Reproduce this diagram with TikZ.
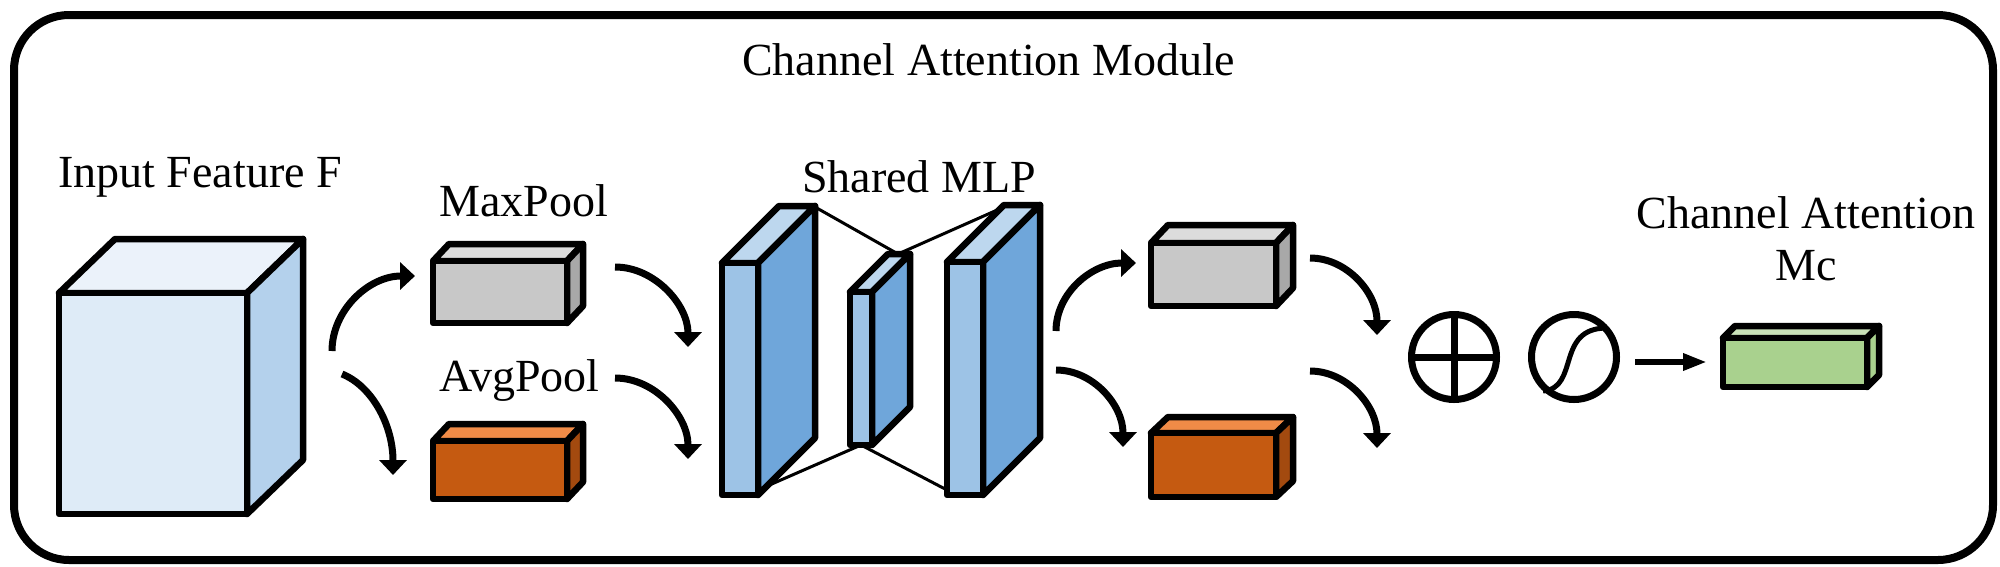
\documentclass[tikz,border=0pt]{standalone}
\usepackage{fontspec}
\setmainfont{Liberation Serif}
\usetikzlibrary{arrows.meta}
\definecolor{cubeF}{HTML}{DEEBF7}
\definecolor{cubeT}{HTML}{EBF2FA}
\definecolor{cubeS}{HTML}{B4D1EC}
\definecolor{grayF}{HTML}{C8C8C8}
\definecolor{grayT}{HTML}{DCDCDC}
\definecolor{grayS}{HTML}{A8A8A8}
\definecolor{oraF}{HTML}{C55A11}
\definecolor{oraT}{HTML}{F08B47}
\definecolor{oraS}{HTML}{A34A0F}
\definecolor{slabF}{HTML}{9DC3E6}
\definecolor{slabT}{HTML}{BDD7EE}
\definecolor{slabS}{HTML}{6FA6DA}
\definecolor{grnF}{HTML}{A9D18E}
\definecolor{grnT}{HTML}{C9E2B8}
\definecolor{grnS}{HTML}{A9D18E}
% #1 name, #2 x0, #3 y0, #4 x1, #5 y1 (front face), #6 dx, #7 dy (depth), #8 colour prefix
\newcommand\cubo[8]{%
  \filldraw[face, fill=#8T] (#2,#3) -- ++(#6,-#7) -- ({#4+#6},{#3-#7}) -- (#4,#3) -- cycle;
  \filldraw[face, fill=#8S] (#4,#3) -- ({#4+#6},{#3-#7}) -- ({#4+#6},{#5-#7}) -- (#4,#5) -- cycle;
  \node[face, fill=#8F, anchor=north west, inner sep=0pt, outer sep=0pt,
        minimum width={(#4-#2)*1pt}, minimum height={(#5-#3)*1pt}] (#1) at (#2,#3) {};
}
\begin{document}
\begin{tikzpicture}[x=1pt,y=-1pt,
  face/.style={draw=black, line width=6.5pt, line join=round},
  arr/.style={line width=7pt, -{Triangle[length=15pt,width=27pt]}},
  arrs/.style={line width=6.5pt, -{Triangle[length=24pt,width=16pt]}},
  link/.style={line width=3pt},
  lab/.style={inner sep=0pt, font=\fontsize{46}{50}\selectfont}]
\useasboundingbox (0,0) rectangle (2000,566);
\node[draw, line width=8pt, rounded corners=55pt, minimum width=1979pt, minimum height=545pt,
      inner sep=0pt, anchor=north west] (frame) at (10,11) {};
% labels
\node[lab, anchor=base west] (title) at (742,75) {Channel Attention Module};
\node[lab, anchor=base west] (inlab) at (58,187) {Input Feature F};
\node[lab, anchor=base west] (maxlab) at (439,216) {MaxPool};
\node[lab, anchor=base west] (avglab) at (439,391) {AvgPool};
\node[lab, anchor=base west] (mlplab) at (802,192) {Shared MLP};
\node[lab, anchor=base] (calab) at (1806,228) {Channel Attention};
\node[lab, anchor=base] (mclab) at (1806,280) {Mc};
% blocks
\cubo{cube}{59}{293}{247}{514}{56}{54}{cube}
\cubo{maxp}{433}{261}{567}{323}{16}{17}{gray}
\cubo{avgp}{433}{441}{567}{499}{16}{17}{ora}
% MLP
\coordinate (l1) at (815,207);
\coordinate (l2) at (898,254);
\coordinate (l3) at (1004,207);
\coordinate (l4) at (758,490);
\coordinate (l5) at (861,445);
\coordinate (l6) at (947,490);
\draw[link] (l1) -- (l2) -- (l3);
\draw[link] (l4) -- (l5) -- (l6);
\cubo{mlpa}{722}{263}{758}{495}{57}{57}{slab}
\cubo{mlpb}{850}{292}{872}{445}{38}{38}{slab}
\cubo{mlpc}{947}{262}{983}{495}{57}{57}{slab}
\cubo{gray2}{1151}{243}{1276}{306}{17}{18}{gray}
\cubo{ora2}{1151}{433}{1276}{497}{17}{16}{ora}
\cubo{mc}{1723}{338}{1867}{387}{12}{12}{grn}
% operators
\node[circle, draw, line width=7pt, minimum size=85pt, inner sep=0pt] (plus) at (1454,357) {};
\draw[line width=7pt] (plus.north) -- (plus.south) (plus.west) -- (plus.east);
\node[circle, draw, line width=7pt, minimum size=85pt, inner sep=0pt] (sig) at (1574,357) {};
\coordinate (s1) at (1543,391);
\coordinate (s2) at (1607,328);
\draw[line width=5pt] (s1) .. controls (1580,388) and (1555,328) .. (s2);
% arrows
\coordinate (a1s) at (332,351); \coordinate (a1e) at (415,276);
\coordinate (a2s) at (342,374); \coordinate (a2e) at (393,475);
\coordinate (a3s) at (615,267); \coordinate (a3e) at (688,347);
\coordinate (a4s) at (615,378); \coordinate (a4e) at (688,459);
\coordinate (a5s) at (1056,331); \coordinate (a5e) at (1136,263);
\coordinate (a6s) at (1056,370); \coordinate (a6e) at (1123,447);
\coordinate (a7s) at (1310,258); \coordinate (a7e) at (1377,335);
\coordinate (a8s) at (1310,371); \coordinate (a8e) at (1377,448);
\coordinate (a9s) at (1635,362); \coordinate (a9e) at (1707,362);
\draw[arr] (a1s) .. controls (332,310) and (369,276) .. (a1e);
\draw[arr] (a2s) .. controls (372,386) and (393,425) .. (a2e);
\draw[arr] (a3s) .. controls (655,267) and (688,305) .. (a3e);
\draw[arr] (a4s) .. controls (655,378) and (688,416) .. (a4e);
\draw[arr] (a5s) .. controls (1056,293) and (1092,263) .. (a5e);
\draw[arr] (a6s) .. controls (1093,370) and (1123,405) .. (a6e);
\draw[arr] (a7s) .. controls (1347,258) and (1377,293) .. (a7e);
\draw[arr] (a8s) .. controls (1347,371) and (1377,406) .. (a8e);
\draw[arrs] (a9s) -- (a9e);
\end{tikzpicture}
\end{document}
